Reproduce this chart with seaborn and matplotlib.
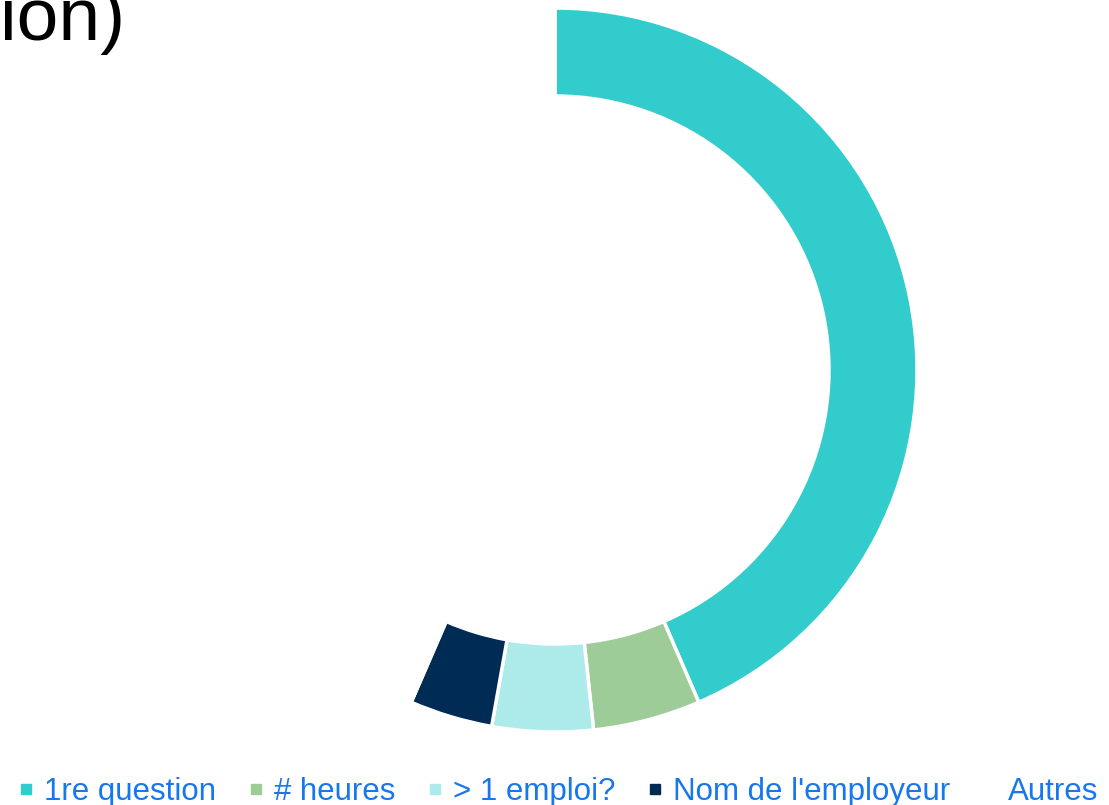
import matplotlib.pyplot as plt
import seaborn as sns
from matplotlib.lines import Line2D

categories = ["1re question", "# heures", "> 1 emploi?", "Nom de l'employeur", "Autres"]
values = [43.5, 4.8, 4.5, 3.7, 43.5]
colors = ["#33CCCC", "#9DCC99", "#ADEAEA", "#002B55", "#FFFFFF"]

sns.set_theme(style="white")
plt.rcParams["font.family"] = ["Liberation Sans", "DejaVu Sans"]

W, H = 1109, 805
fig = plt.figure(figsize=(W / 100, H / 100), dpi=100)
ax = fig.add_axes([0, 0, 1, 1])

ax.pie(values, colors=colors, startangle=90, counterclock=False,
       center=(555, H - 370), radius=362,
       wedgeprops=dict(width=88, edgecolor="white", linewidth=2.5))
ax.set_xlim(0, W)
ax.set_ylim(0, H)
ax.set_aspect("equal", adjustable="box")
ax.axis("off")

# title, clipped at the top-left in the original
fig.text(0, 1 - 40 / H, "ion)", fontsize=54, color="black",
         ha="left", va="baseline")

handles = [Line2D([], [], marker="s", linestyle="none", markersize=7.5,
                  markerfacecolor=c, markeredgecolor=c) for c in colors]
leg = fig.legend(handles, categories, loc="lower center", ncol=5,
                 bbox_to_anchor=(0.503, -0.018), frameon=False, fontsize=22.5,
                 labelcolor="#1677EE", handlelength=0.55, handletextpad=0.3,
                 columnspacing=1.0, borderaxespad=0)

fig.savefig("out.png", dpi=100)
